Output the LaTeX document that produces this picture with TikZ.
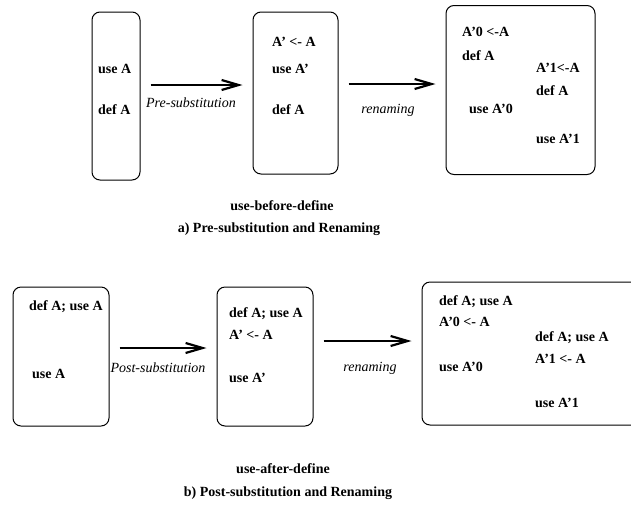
\documentclass[tikz,border=0pt]{standalone}
\usepackage{fontspec}
\setmainfont{Liberation Serif}
\usetikzlibrary{arrows.meta}
\begin{document}
\begin{tikzpicture}[x=1pt,y=-1pt,
  box/.style={draw,line width=1pt,rounded corners=8pt,inner sep=0pt},
  txt/.style={anchor=west,inner sep=0pt,font=\fontsize{14}{16}\selectfont\bfseries},
  lab/.style={inner sep=0pt,font=\fontsize{14}{16}\selectfont\itshape},
  captext/.style={inner sep=0pt,font=\fontsize{14}{16}\selectfont\bfseries},
  arr/.style={line width=2.8pt,-{Straight Barb[length=17pt,width=10pt,line width=2.2pt]},shorten <=10pt,shorten >=10pt}]
\useasboundingbox (0,0) rectangle (631,504);
% top row
\node[box,minimum width=48,minimum height=168] (b1) at (116,96) {};
\node[box,minimum width=85,minimum height=162] (b2) at (295.5,93) {};
\node[box,minimum width=149,minimum height=169] (b3) at (520.5,90) {};
\node[txt] (t11) at (98,69) {use A};
\node[txt] (t12) at (98,110) {def A};
\node[txt] (t21) at (272,42) {A’ <- A};
\node[txt] (t22) at (272,69) {use A’};
\node[txt] (t23) at (272,110) {def A};
\node[txt] (t31) at (462,32) {A’0 <-A};
\node[txt] (t32) at (462,56) {def A};
\node[txt] (t33) at (536,68) {A’1<-A};
\node[txt] (t34) at (536,91) {def A};
\node[txt] (t35) at (469,109) {use A’0};
\node[txt] (t36) at (536,139) {use A’1};
\draw[arr] ([yshift=11pt]b1.east) -- ([yshift=11pt]b2.west |- b1.east);
\draw[arr] ([yshift=9pt]b2.east) -- ([yshift=9pt]b3.west |- b2.east);
\node[lab] (l1) at (191,103) {Pre-substitution};
\node[lab] (l2) at (388,110) {renaming};
\node[captext] (c1) at (282,206) {use-before-define};
\node[captext] (c2) at (279,229) {a) Pre-substitution and Renaming};
% bottom row
\node[box,minimum width=96,minimum height=139] (b4) at (61,356.5) {};
\node[box,minimum width=96,minimum height=139] (b5) at (265,356.5) {};
\node[box,minimum width=220,minimum height=143] (b6) at (532,353.5) {};
\node[txt] (t41) at (29,307) {def A; use A};
\node[txt] (t42) at (32,374) {use A};
\node[txt] (t51) at (229,314) {def A; use A};
\node[txt] (t52) at (229,335) {A’ <- A};
\node[txt] (t53) at (229,378) {use A’};
\node[txt] (t61) at (439,302) {def A; use A};
\node[txt] (t62) at (439,322) {A’0 <- A};
\node[txt] (t63) at (439,367) {use A’0};
\node[txt] (t64) at (535,338) {def A; use A};
\node[txt] (t65) at (535,359) {A’1 <- A};
\node[txt] (t66) at (535,403) {use A’1};
\draw[arr] ([yshift=8.5pt]b4.east) -- ([yshift=8.5pt]b5.west |- b4.east);
\draw[arr] ([yshift=15.5pt]b5.east) -- ([yshift=15.5pt]b6.west |- b5.east);
\node[lab] (l3) at (158,368) {Post-substitution};
\node[lab] (l4) at (370,368) {renaming};
\node[captext] (c3) at (283,469) {use-after-define};
\node[captext] (c4) at (288,493) {b) Post-substitution and Renaming};
\end{tikzpicture}
\end{document}
